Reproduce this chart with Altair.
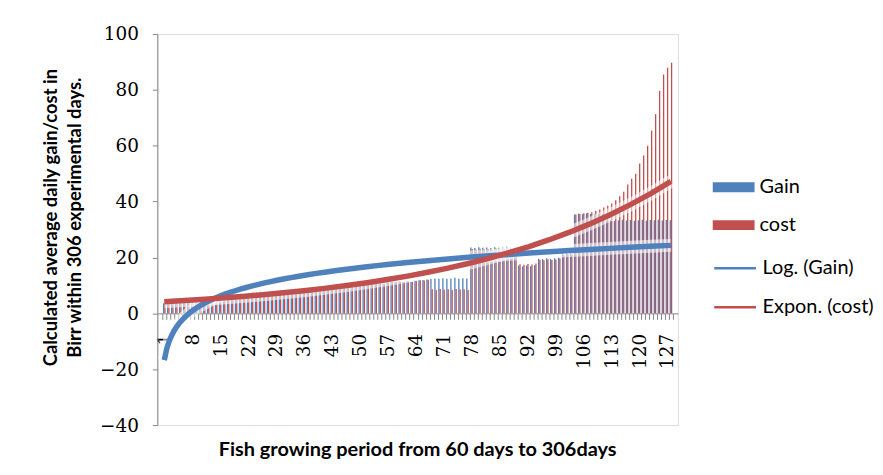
import altair as alt
import pandas as pd

# ---------------- data ----------------
categories = list(range(1, 129))

gain = [
    3.6, 3.7, 3.8, 3.6, 3.7, 3.8, 3.7, 3.6, 3.8, 3.7, 3.6, 3.7, 3.8, 3.7,
    6.2, 6.4, 6.3, 6.5, 6.6, 6.4, 6.5,
    6.9, 7.1, 7.0, 7.2, 7.0, 7.1, 7.3,
    7.5, 7.7, 7.6, 7.8, 7.7, 7.9, 8.0,
    8.5, 8.7, 8.6, 8.8, 9.0, 8.9, 9.1,
    9.7, 9.9, 9.8, 10.0, 10.1, 9.9, 10.2,
    10.5, 10.7, 10.6, 10.8, 10.6, 10.9, 10.7,
    11.1, 11.3, 11.2, 11.4, 11.2, 11.5, 11.3,
    11.8, 12.0, 11.9, 12.1,
    12.3, 12.5, 12.4, 12.6, 12.4, 12.5, 12.7, 12.4, 12.6, 12.5,
    23.6, 23.4, 23.7, 23.5, 23.6, 23.4, 23.7, 23.5, 23.6, 23.8, 23.5, 23.6,
    17.0, 16.8, 17.1, 16.9, 17.2,
    19.6, 19.4, 19.8, 19.5, 19.7, 20.0,
    21.4, 21.6, 21.5,
    35.4, 35.7, 35.5, 35.8, 35.6, 35.4, 35.7, 35.5,
    33.2, 33.4, 33.1, 33.3, 33.5, 33.2, 33.4, 33.1, 33.3, 33.5, 33.2, 33.4,
    33.3, 33.5, 33.2, 33.4, 33.3,
]

cost = [
    5.1, 5.0, 5.2, 5.1, 5.0, 5.2, 5.1, 5.1, 5.0, 5.2, 5.1, 5.0, 5.2, 5.1,
    6.9, 7.0, 6.8, 7.1, 7.0, 7.2, 7.1,
    7.5, 7.7, 7.6, 7.8, 7.7, 7.9, 7.8,
    8.1, 8.3, 8.2, 8.4, 8.3, 8.5, 8.4,
    8.6, 8.8, 8.7, 8.9, 9.1, 9.0, 9.2,
    9.7, 9.9, 9.8, 10.0, 10.1, 9.9, 10.2,
    10.4, 10.6, 10.5, 10.7, 10.5, 10.8, 10.6,
    11.0, 11.2, 11.1, 11.3, 11.1, 11.4, 11.2,
    11.7, 11.9, 11.8, 12.0,
    8.6, 8.4, 8.7, 8.5, 8.6, 8.4, 8.7, 8.5, 8.6, 8.4,
    23.0, 22.8, 23.1, 22.9, 23.0, 22.8, 23.2, 22.9, 23.0, 23.1, 22.9, 23.0,
    17.6, 17.4, 17.7, 17.5, 17.8,
    19.2, 19.0, 19.4, 19.1, 19.3, 19.6,
    21.0, 21.2, 21.1,
    35.4, 35.6, 35.8, 36.0, 36.2, 36.7, 37.2, 37.9,
    38.5, 39.3, 40.5, 41.9, 43.5, 46.1, 48.2, 50.0, 53.6, 56.5, 60.0, 65.4,
    71.3, 79.6, 85.5, 87.9, 89.7,
]

tick_labels = [1, 8, 15, 22, 29, 36, 43, 50, 57, 64, 71, 78, 85, 92, 99, 106, 113, 120, 127]
y_ticks = [-40, -20, 0, 20, 40, 60, 80, 100]

series_names = ["Gain", "cost"]
trend_names = ["Log. (Gain)", "Expon. (cost)"]
y_title = ["Calculated average daily gain/cost in", "Birr within 306 experimental days."]
x_title = "Fish growing period from 60 days to 306days"

# ---------------- styling ----------------
BLUE = "#4F81BD"
RED = "#C0504D"
AXIS_GRAY = "#868686"
SANS = "Lato"
SERIF = "DejaVu Serif"

W, H = 523, 393
y_min, y_max = y_ticks[0], y_ticks[-1]
band = W / len(categories)
zero_offset = -H * (0 - y_min) / (y_max - y_min)

df = pd.DataFrame({"x": categories, "gain": gain, "cost": cost})

boundaries = [c - 0.5 for c in categories] + [categories[-1] + 0.5]
label_list = ",".join(str(t) for t in tick_labels)

x_scale = alt.Scale(domain=[categories[0] - 0.5, categories[-1] + 0.5], nice=False, zero=False)
y_scale = alt.Scale(domain=[y_min, y_max], nice=False)

x_axis = alt.Axis(
    values=boundaries,
    tickCount=len(boundaries) + 50,
    labelExpr=f"indexof([{label_list}], datum.value + 0.5) >= 0 ? format(datum.value + 0.5, 'd') : ''",
    labelAngle=-90,
    labelOffset=band / 2,
    labelOverlap=False,
    labelFlush=False,
    labelPadding=14,
    labelFont=SERIF,
    labelFontSize=18.5,
    labelColor="black",
    offset=zero_offset,
    tickSize=6,
    tickColor=AXIS_GRAY,
    domainColor=AXIS_GRAY,
    grid=False,
    title=None,
)

y_axis = alt.Axis(
    values=y_ticks,
    tickSize=5,
    tickColor=AXIS_GRAY,
    domainColor=AXIS_GRAY,
    labelPadding=14,
    labelFont=SERIF,
    labelFontSize=18.5,
    labelColor="black",
    grid=False,
    title=y_title,
    titleFont=SANS,
    titleFontSize=18.5,
    titleFontWeight="bold",
    titleColor="black",
    titleLineHeight=24,
    titlePadding=15,
    titleY=184,
)

fill_scale = alt.Scale(domain=series_names, range=[BLUE, RED])
stroke_scale = alt.Scale(domain=trend_names, range=[BLUE, RED])

fill_legend = alt.Legend(
    title=None, orient="none", legendX=568.5, legendY=143.5,
    symbolType="M-2,-0.47H2V0.47H-2Z", symbolSize=441, symbolStrokeWidth=0,
    labelFont=SANS, labelFontSize=20, labelColor="black",
    labelOffset=15.5, rowPadding=17, padding=0,
)
stroke_legend = alt.Legend(
    title=None, orient="none", legendX=568.5, legendY=223.5,
    symbolType="M-2,0H2", symbolSize=441, symbolStrokeWidth=2.5,
    labelFont=SANS, labelFontSize=20, labelColor="black",
    labelOffset=15.5, rowPadding=17, padding=0,
)

base = alt.Chart(df)

bars_gain = base.transform_calculate(series=f"'{series_names[0]}'").mark_bar(
    width=1.3, xOffset=-0.65, orient="vertical"
).encode(
    x=alt.X("x:Q", scale=x_scale, axis=x_axis),
    y=alt.Y("gain:Q", scale=y_scale, axis=y_axis),
    fill=alt.Fill("series:N", scale=fill_scale, legend=fill_legend),
)
bars_cost = base.transform_calculate(series=f"'{series_names[1]}'").mark_bar(
    width=1.3, xOffset=0.65, orient="vertical"
).encode(
    x=alt.X("x:Q", scale=x_scale),
    y=alt.Y("cost:Q", scale=y_scale),
    fill=alt.Fill("series:N", scale=fill_scale, legend=fill_legend),
)

# Excel-style trendlines computed by Vega-Lite from the data
log_src = base.transform_regression("x", "gain", method="log")
exp_src = (
    base.transform_calculate(ly="log(datum.cost)")
    .transform_regression("x", "ly", method="poly", order=1)
    .transform_calculate(cost_fit="exp(datum.ly)")
)

log_glow = log_src.mark_line(color="white", strokeWidth=13, opacity=0.55).encode(
    x=alt.X("x:Q", scale=x_scale), y=alt.Y("gain:Q", scale=y_scale)
)
exp_glow = exp_src.mark_line(color="white", strokeWidth=13, opacity=0.55).encode(
    x=alt.X("x:Q", scale=x_scale), y=alt.Y("cost_fit:Q", scale=y_scale)
)

log_line = log_src.transform_calculate(trend=f"'{trend_names[0]}'").mark_line(strokeWidth=5.5).encode(
    x=alt.X("x:Q", scale=x_scale),
    y=alt.Y("gain:Q", scale=y_scale),
    stroke=alt.Stroke("trend:N", scale=stroke_scale, legend=stroke_legend),
)
exp_line = exp_src.transform_calculate(trend=f"'{trend_names[1]}'").mark_line(strokeWidth=5.5).encode(
    x=alt.X("x:Q", scale=x_scale),
    y=alt.Y("cost_fit:Q", scale=y_scale),
    stroke=alt.Stroke("trend:N", scale=stroke_scale, legend=stroke_legend),
)

chart = (
    alt.layer(bars_gain, bars_cost, log_glow, exp_glow, log_line, exp_line)
    .properties(
        width=W,
        height=H,
        padding={"left": 33, "top": 16, "right": 0, "bottom": 0},
        title=alt.Title(
            x_title, orient="bottom", anchor="middle", font=SANS,
            fontSize=20, fontWeight="bold", color="black", offset=6,
        ),
    )
    .configure_view(stroke=None)
    .configure(background="white")
)

chart.save("out.html", embed_options={"renderer": "svg", "actions": False})
